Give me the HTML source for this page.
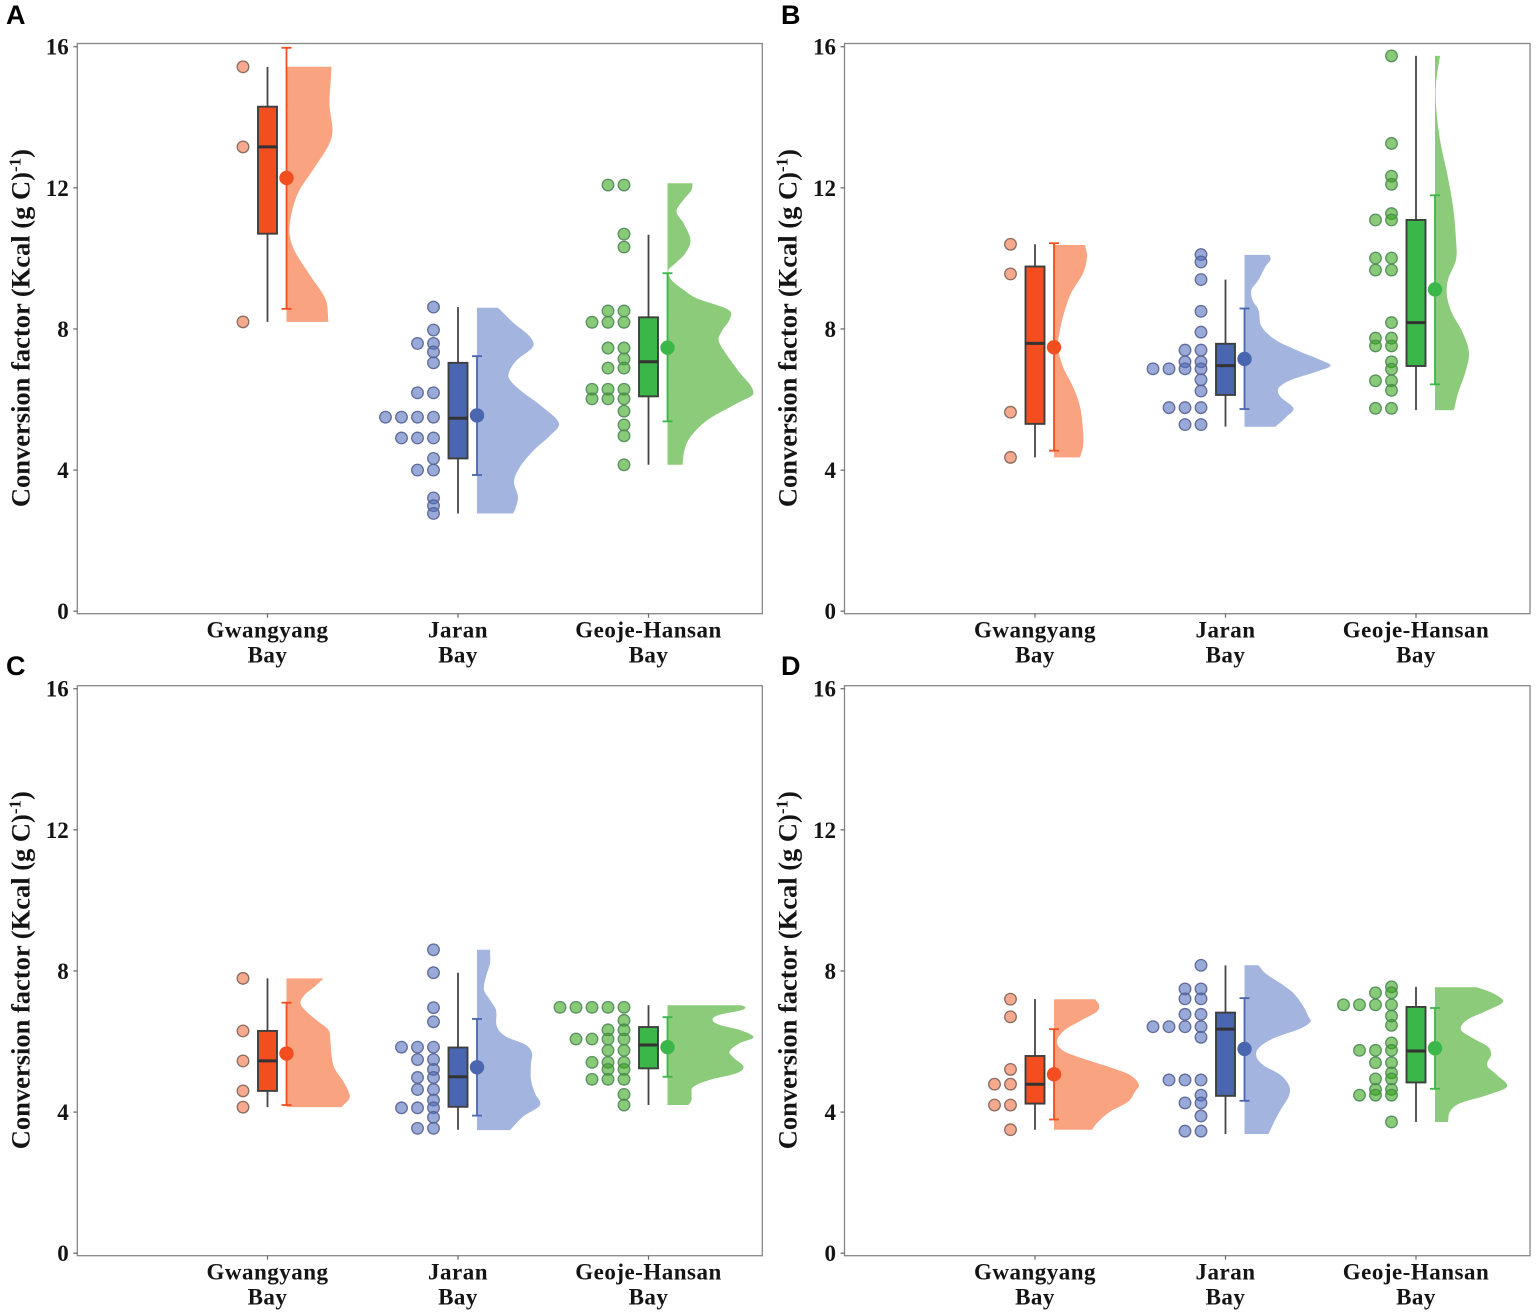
<!DOCTYPE html>
<html lang="en">
<head>
<meta charset="utf-8">
<title>Conversion factor raincloud plots</title>
<style>
html,body{margin:0;padding:0;background:#fff;width:1536px;height:1316px;overflow:hidden}
svg{display:block}
text{font-family:"Liberation Serif",serif;font-weight:bold;fill:#141414}
.panel-letter{font-family:"Liberation Sans",sans-serif;font-size:27px;fill:#000}
</style>
</head>
<body>
<svg id="chart" width="1536" height="1316" viewBox="0 0 1536 1316" xmlns="http://www.w3.org/2000/svg"></svg>
<script>
const categories = [['Gwangyang','Bay'],['Jaran','Bay'],['Geoje-Hansan','Bay']];
const yTicks = [0,4,8,12,16];
const yTitle = 'Conversion factor (Kcal (g C)';

/* Panel A */
const A_G_dots = [[15.43,13.16,8.2]];
const A_G_box = [8.2,10.7,13.16,14.3,15.43];
const A_G_mean = [12.28,8.57,15.97];
const A_G_dens = [[15.43,45],[14.95,44],[14.33,43],[13.62,46],[13.2,42],[12.49,26],[11.82,11],[10.88,3],[10.28,7],[9.5,24],[8.84,39],[8.2,42]];
const A_J_dots = [[8.62,7.97,7.59,7.35,7.04,6.19,5.5,4.91,4.33,4.0,3.21,2.99,2.77],[7.59,6.19,5.5,4.91,4.0],[5.5,4.91],[5.5]];
const A_J_box = [2.77,4.33,5.47,7.04,8.62];
const A_J_mean = [5.55,3.86,7.23];
const A_J_dens = [[8.6,21],[8.16,37],[7.78,53],[7.5,56],[7.12,40],[6.84,33],[6.6,32],[6.27,43],[5.8,65],[5.32,82],[4.95,72],[4.57,57],[4.09,43],[3.67,37],[3.24,41],[2.87,38],[2.77,36]];
const A_H_dots = [[12.08,10.69,10.32,8.51,8.19,7.46,7.15,6.89,6.29,6.02,5.67,5.28,4.97,4.15],[12.08,8.51,8.19,7.46,6.89,6.29,6.02],[8.19,6.29,6.02]];
const A_H_box = [4.15,6.09,7.07,8.33,10.67];
const A_H_mean = [7.47,5.38,9.58];
const A_H_dens = [[12.13,25],[11.94,24],[11.66,16],[11.33,9],[11.0,16],[10.52,23],[10.15,18],[9.86,8],[9.67,1],[9.39,4],[9.11,16],[8.87,29],[8.54,61],[8.26,62],[7.97,55],[7.69,51],[7.32,58],[6.84,70],[6.18,86],[5.9,70],[5.42,40],[4.94,23],[4.57,17],[4.15,15]];

/* Panel B */
const B_G_dots = [[10.4,9.56,5.64,4.36]];
const B_G_box = [4.36,5.31,7.59,9.77,10.4];
const B_G_mean = [7.48,4.55,10.43];
const B_G_dens = [[10.38,31],[10.05,33],[9.58,29],[9.01,17],[8.45,10],[7.97,6],[7.5,4],[6.93,9],[6.36,19],[5.8,26],[5.13,29],[4.66,29],[4.36,26]];
const B_J_dots = [[10.11,9.9,9.4,8.5,7.91,7.4,7.07,6.87,6.56,6.24,5.77,5.29],[7.4,7.07,6.87,5.77,5.29],[6.87,5.77],[6.87]];
const B_J_box = [5.23,6.13,6.96,7.58,9.4];
const B_J_mean = [7.15,5.73,8.58];
const B_J_dens = [[10.1,25],[9.96,26],[9.77,21],[9.39,14],[9.11,7],[8.82,8],[8.54,14],[8.07,17],[7.69,31],[7.4,52],[7.12,76],[6.96,86],[6.79,72],[6.55,46],[6.32,34],[6.08,36],[5.75,49],[5.51,42],[5.23,31]];
const B_H_dots = [[15.74,13.26,12.33,12.1,11.27,11.09,10.01,9.67,8.18,7.74,7.52,7.07,6.86,6.53,6.26,5.75],[11.09,10.01,9.67,7.74,7.52,6.53,5.75]];
const B_H_box = [5.7,6.95,8.18,11.09,15.74];
const B_H_mean = [9.12,6.43,11.79];
const B_H_dens = [[15.74,5],[14.97,1],[14.31,1],[13.36,5],[12.42,12],[11.47,18],[10.52,21],[9.96,21],[9.39,13],[8.92,12],[8.45,17],[7.88,28],[7.31,34],[6.74,30],[6.18,23],[5.7,19]];

/* Panel C */
const C_G_dots = [[7.79,6.3,5.45,4.6,4.14]];
const C_G_box = [4.14,4.6,5.45,6.3,7.79];
const C_G_mean = [5.66,4.2,7.1];
const C_G_dens = [[7.79,37],[7.55,28],[7.32,18],[7.08,14],[6.85,20],[6.56,32],[6.33,42],[5.99,44],[5.62,45],[5.24,48],[4.86,57],[4.58,62],[4.39,63],[4.14,55]];
const C_J_dots = [[8.6,7.95,6.96,6.56,5.84,5.49,5.21,4.98,4.64,4.34,4.12,3.85,3.54],[5.84,5.49,4.98,4.64,4.12,3.54],[5.84,4.12]];
const C_J_box = [3.5,4.15,5.0,5.83,7.95];
const C_J_mean = [5.27,3.9,6.64];
const C_J_dens = [[8.6,13],[8.22,13],[7.84,9],[7.46,7],[7.18,13],[6.89,19],[6.42,20],[6.14,29],[5.9,49],[5.67,55],[5.38,54],[4.91,54],[4.53,58],[4.2,63],[3.87,46],[3.49,33]];
const C_H_dots = [[6.97,6.6,6.33,6.07,5.75,5.41,5.21,4.93,4.5,4.2],[6.97,6.33,6.07,5.75,5.41,5.21,4.93],[6.97,6.07,5.41,4.93],[6.97,6.07],[6.97]];
const C_H_box = [4.2,5.24,5.9,6.41,7.03];
const C_H_mean = [5.84,5.0,6.69];
const C_H_dens = [[7.03,74],[6.97,78],[6.89,74],[6.75,51],[6.61,45],[6.47,52],[6.33,72],[6.12,86],[5.95,72],[5.71,62],[5.52,67],[5.29,76],[5.1,69],[4.91,42],[4.72,26],[4.53,24],[4.34,24],[4.2,21]];

/* Panel D */
const D_G_dots = [[7.2,6.7,5.21,4.79,4.2,3.5],[4.79,4.2]];
const D_G_box = [3.5,4.24,4.79,5.59,7.2];
const D_G_mean = [5.07,3.79,6.35];
const D_G_dens = [[7.2,41],[7.04,45],[6.85,43],[6.61,28],[6.33,11],[6.0,3],[5.71,11],[5.48,33],[5.24,59],[5.05,76],[4.77,85],[4.58,81],[4.29,74],[4.01,56],[3.72,44],[3.5,38]];
const D_J_dots = [[8.16,7.49,7.21,6.77,6.42,6.12,4.91,4.48,4.26,3.89,3.46],[7.49,7.21,6.77,6.42,4.91,4.26,3.46],[6.42,4.91],[6.42]];
const D_J_box = [3.38,4.46,6.35,6.82,8.16];
const D_J_mean = [5.79,4.32,7.23];
const D_J_dens = [[8.16,14],[7.93,21],[7.65,36],[7.37,49],[6.99,59],[6.7,64],[6.56,66],[6.37,56],[6.09,29],[5.81,14],[5.57,12],[5.33,19],[5.05,36],[4.72,45],[4.43,44],[4.06,36],[3.68,29],[3.38,24]];
const D_H_dots = [[7.55,7.38,7.04,6.72,6.46,5.96,5.75,5.4,5.11,4.94,4.64,4.48,3.72],[7.38,7.04,5.75,5.4,4.94,4.64,4.48],[7.04,5.75,4.48],[7.04]];
const D_H_box = [3.72,4.84,5.73,6.98,7.55];
const D_H_mean = [5.81,4.66,6.95];
const D_H_dens = [[7.54,42],[7.37,58],[7.13,68],[6.89,53],[6.61,32],[6.33,26],[6.09,38],[5.85,53],[5.62,56],[5.33,52],[5.05,62],[4.72,72],[4.48,52],[4.25,25],[4.01,15],[3.72,13]];

const svg = document.getElementById('chart');
const NS = 'http://www.w3.org/2000/svg';
function make(parent, tag, attrs) {
  const el = document.createElementNS(NS, tag);
  for (const k in attrs) el.setAttribute(k, attrs[k]);
  parent.appendChild(el);
  return el;
}

const palette = [
  {name:'gwangyang', solid:'#f24e1f', soft:'#f9a381', dot:'#ef6a3a', edge:'#7d6258'},
  {name:'jaran', solid:'#4a66b0', soft:'#a3b4de', dot:'#4f6dbd', edge:'#55608e'},
  {name:'geoje-hansan', solid:'#3bb649', soft:'#8bcb7a', dot:'#34a416', edge:'#4c8755'}
];

const panels = [
  {id:'A', left:77.3,  right:762.3,  top:43.5,  bottom:613.7,  zero:611.2,  cat0:267.5,  lx:6,   ly:24,
   groups:[[A_G_dots,A_G_box,A_G_mean,A_G_dens],[A_J_dots,A_J_box,A_J_mean,A_J_dens],[A_H_dots,A_H_box,A_H_mean,A_H_dens]]},
  {id:'B', left:844.5, right:1530,   top:43.5,  bottom:613.7,  zero:611.2,  cat0:1035,   lx:781, ly:24,
   groups:[[B_G_dots,B_G_box,B_G_mean,B_G_dens],[B_J_dots,B_J_box,B_J_mean,B_J_dens],[B_H_dots,B_H_box,B_H_mean,B_H_dens]]},
  {id:'C', left:77.3,  right:762.3,  top:685.7, bottom:1255.7, zero:1253.2, cat0:267.5,  lx:6,   ly:675,
   groups:[[C_G_dots,C_G_box,C_G_mean,C_G_dens],[C_J_dots,C_J_box,C_J_mean,C_J_dens],[C_H_dots,C_H_box,C_H_mean,C_H_dens]]},
  {id:'D', left:844.5, right:1530,   top:685.7, bottom:1255.7, zero:1253.2, cat0:1035,   lx:781, ly:675,
   groups:[[D_G_dots,D_G_box,D_G_mean,D_G_dens],[D_J_dots,D_J_box,D_J_mean,D_J_dens],[D_H_dots,D_H_box,D_H_mean,D_H_dens]]}
];

const Y_UNIT = 35.28;
const CAT_STEP = 190.5;
const COL_OFFSET = -24.5;
const COL_STEP = -16;
const RAIN_OFFSET = 19;
const BOX_HALF = 10;
const CAP_HALF = 5;
const DENS_SCALE = 1;

/* Hermite spline of width as a function of y, tolerant of uneven sample spacing. */
function densityPath(baseX, yScale, dens) {
  const pts = dens.map(function (d) { return [baseX + d[1] * DENS_SCALE, yScale(d[0])]; });
  const n = pts.length;
  const m = pts.map(function (pt, i) {
    if (i === 0) return (pts[1][0] - pts[0][0]) / (pts[1][1] - pts[0][1]);
    if (i === n - 1) return (pts[n - 1][0] - pts[n - 2][0]) / (pts[n - 1][1] - pts[n - 2][1]);
    return (pts[i + 1][0] - pts[i - 1][0]) / (pts[i + 1][1] - pts[i - 1][1]);
  });
  let p = 'M' + baseX + ' ' + pts[0][1].toFixed(1) + 'L' + pts[0][0].toFixed(1) + ' ' + pts[0][1].toFixed(1);
  for (let i = 0; i < n - 1; i++) {
    const h = pts[i + 1][1] - pts[i][1];
    const c1x = pts[i][0] + m[i] * h / 3, c1y = pts[i][1] + h / 3;
    const c2x = pts[i + 1][0] - m[i + 1] * h / 3, c2y = pts[i + 1][1] - h / 3;
    p += 'C' + c1x.toFixed(1) + ' ' + c1y.toFixed(1) + ' ' + c2x.toFixed(1) + ' ' + c2y.toFixed(1) + ' ' + pts[i + 1][0].toFixed(1) + ' ' + pts[i + 1][1].toFixed(1);
  }
  return p + 'L' + baseX + ' ' + pts[n - 1][1].toFixed(1) + 'Z';
}

panels.forEach(function (P) {
  const tag = P.id.toLowerCase();
  const yScale = function (v) { return P.zero - v * Y_UNIT; };
  const xScale = function (i) { return P.cat0 + i * CAT_STEP; };

  const g = make(svg, 'g', {});
  
  

  const letter = make(g, 'text', {x:P.lx, y:P.ly, 'class':'panel-letter'});
  
  
  letter.textContent = P.id;

  const frame = make(g, 'rect', {x:P.left, y:P.top, width:P.right - P.left, height:P.bottom - P.top, fill:'#fff', stroke:'#868686', 'stroke-width':1.3});
  
  

  yTicks.forEach(function (t) {
    const mark = make(g, 'line', {x1:P.left - 4, x2:P.left, y1:yScale(t), y2:yScale(t), stroke:'#666', 'stroke-width':1.2});
    
    
    const label = make(g, 'text', {x:P.left - 8.5, y:yScale(t) + 8, 'text-anchor':'end', 'font-size':23});
    
    
    label.textContent = String(t);
  });

  const cy = (P.top + P.bottom) / 2 - 0.5;
  const tx = P.left - 48;
  const title = make(g, 'text', {transform:'translate(' + tx + ' ' + cy + ') rotate(-90)', 'text-anchor':'middle', 'font-size':26.5});
  
  
  title.appendChild(document.createTextNode(yTitle));
  const sup = make(title, 'tspan', {'font-size':17, dy:-9});
  
  
  sup.textContent = '-1';
  const close = make(title, 'tspan', {dy:9});
  
  
  close.textContent = ')';

  categories.forEach(function (cat, i) {
    const c = palette[i];
    const cx = xScale(i);
    const d = P.groups[i];
    const box = d[1], mean = d[2];
    const rainX = cx + RAIN_OFFSET;

    const tick = make(g, 'line', {x1:cx, x2:cx, y1:P.bottom, y2:P.bottom + 4, stroke:'#666', 'stroke-width':1.2});
    
    

    const lab = make(g, 'text', {x:cx, y:P.bottom + 24, 'text-anchor':'middle', 'font-size':23, 'letter-spacing':0.5});
    
    
    lab.textContent = cat[0];
    const lab2 = make(g, 'text', {x:cx, y:P.bottom + 49, 'text-anchor':'middle', 'font-size':23, 'letter-spacing':0.5});
    
    
    lab2.textContent = cat[1];

    const cloud = make(g, 'path', {d:densityPath(rainX, yScale, d[3]), fill:c.soft});
    
    

    d[0].forEach(function (col, ci) {
      col.forEach(function (v) {
        const dot = make(g, 'circle', {cx:cx + COL_OFFSET + ci * COL_STEP, cy:yScale(v), r:5.8, fill:c.dot, 'fill-opacity':0.58, stroke:c.edge, 'stroke-width':1.3, 'stroke-opacity':0.9});
        
        
      });
    });

    const errLine = make(g, 'line', {x1:rainX, x2:rainX, y1:yScale(mean[1]), y2:yScale(mean[2]), stroke:c.solid, 'stroke-width':1.8});
    
    
    [mean[1], mean[2]].forEach(function (v) {
      const cap = make(g, 'line', {x1:rainX - CAP_HALF, x2:rainX + CAP_HALF, y1:yScale(v), y2:yScale(v), stroke:c.solid, 'stroke-width':1.8});
      
      
    });
    const meanDot = make(g, 'circle', {cx:rainX, cy:yScale(mean[0]), r:7.2, fill:c.solid});
    
    

    const whisker = make(g, 'line', {x1:cx, x2:cx, y1:yScale(box[0]), y2:yScale(box[4]), stroke:'#454545', 'stroke-width':1.8});
    
    
    const rect = make(g, 'rect', {x:cx - BOX_HALF + 0.5, y:yScale(box[3]), width:BOX_HALF * 2 - 1, height:yScale(box[1]) - yScale(box[3]), fill:c.solid, stroke:'#3f3f3f', 'stroke-width':1.9});
    
    
    const median = make(g, 'line', {x1:cx - BOX_HALF, x2:cx + BOX_HALF, y1:yScale(box[2]), y2:yScale(box[2]), stroke:'#333', 'stroke-width':3});
    
    
  });
});
</script>
</body>
</html>
